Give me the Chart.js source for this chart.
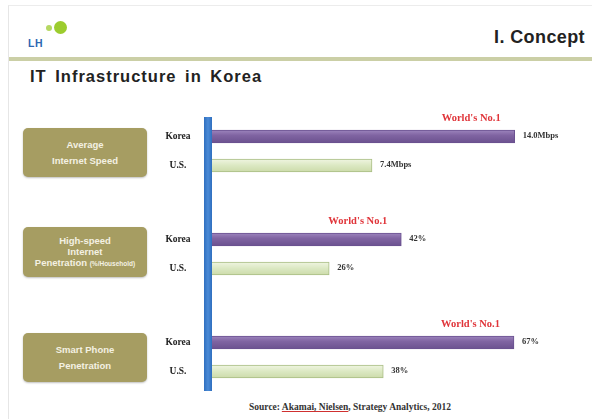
<!DOCTYPE html>
<html>
<head>
    <title>IT Infrastructure in Korea</title>
    <style>
        body {
            margin: 0;
            width: 592px;
            height: 419px;
            background: #fff;
            font-family: "Liberation Sans", Arial, sans-serif;
            position: relative;
            overflow: hidden;
        }
        .slide-edge {
            position: absolute;
            left: 8px; top: 5px; right: 0; bottom: 0;
            border-left: 1px solid #e6e6e6;
            border-top: 1px solid #ececec;
        }
        .logo-text {
            position: absolute;
            left: 28px; top: 37px;
            font: bold 10.5px "Liberation Sans", Arial, sans-serif;
            letter-spacing: 0.5px;
            color: #2d67b2;
        }
        .dot {
            position: absolute;
            border-radius: 50%;
        }
        .section {
            position: absolute;
            left: 494px; top: 27px;
            font: bold 18px "Liberation Sans", Arial, sans-serif;
            letter-spacing: 0.4px;
            color: #222;
            white-space: nowrap;
        }
        .rule {
            position: absolute;
            left: 9px; right: 0; top: 57px;
            height: 4px;
            background: #cbcfa6;
        }
        .title {
            position: absolute;
            left: 30px; top: 67px;
            font: bold 16.5px "Liberation Sans", Arial, sans-serif;
            letter-spacing: 1px;
            word-spacing: 3px;
            color: #222;
            white-space: nowrap;
        }
        .box {
            position: absolute;
            left: 23px; width: 124px;
            border-radius: 5px;
            background: #a69d62;
            box-shadow: 0 1px 2px rgba(0,0,0,0.25);
            color: #f4f1e2;
            font: bold 9.5px "Liberation Sans", Arial, sans-serif;
            line-height: 16px;
            text-align: center;
            display: flex;
            align-items: center;
            justify-content: center;
        }
        .box.tight {
            line-height: 11px;
        }
        .box small {
            font-size: 6.5px;
        }
        .axis-line {
            position: absolute;
            left: 204px; width: 8px;
            top: 117px; height: 274px;
            background: linear-gradient(to right, #2f6fbf, #4a8ad6, #2f6fbf);
        }
        canvas {
            position: absolute;
            left: 0;
        }
        .source {
            position: absolute;
            left: 0; width: 592px; top: 402px;
            text-align: center;
            padding-left: 108px;
            box-sizing: border-box;
            font: bold 9.5px "Liberation Serif", "Times New Roman", serif;
            color: #333;
        }
        .source u {
            text-decoration-color: #d03030;
        }
    </style>
</head>
<body>
    <div class="slide-edge"></div>
    <div class="dot" style="left:46px;top:25px;width:6px;height:6px;background:#b6d862;"></div>
    <div class="dot" style="left:54px;top:21px;width:13px;height:13px;background:#9ccc2e;"></div>
    <div class="logo-text">LH</div>
    <div class="section">I. Concept</div>
    <div class="rule"></div>
    <div class="title">IT Infrastructure in Korea</div>

    <div class="box" style="top:128px;height:49px;"><div>Average<br>Internet Speed</div></div>
    <div class="box tight" style="top:227px;height:50px;"><div>High-speed<br>Internet<br>Penetration <small>(%/Household)</small></div></div>
    <div class="box" style="top:333px;height:49px;"><div>Smart Phone<br>Penetration</div></div>

    <canvas id="speed" width="592" height="88" style="top:98px;"></canvas>
    <canvas id="broadband" width="592" height="88" style="top:201px;"></canvas>
    <canvas id="smartphone" width="592" height="88" style="top:304px;"></canvas>

    <div class="axis-line"></div>

    <div class="source">Source: <u>Akamai, Nielsen</u>, Strategy Analytics, 2012</div>

    <script src="https://cdn.jsdelivr.net/npm/chart.js"></script>
    <script>
        // data
        var countries = ['Korea', 'U.S.'];
        var speedMbps = [14.0, 7.4];
        var broadbandPct = [42, 26];
        var smartphonePct = [67, 38];
        var speedLabels = ['14.0Mbps', '7.4Mbps'];
        var broadbandLabels = ['42%', '26%'];
        var smartphoneLabels = ['67%', '38%'];
        var rankNote = "World's No.1";

        var speedMax = 14.8;
        var pctMax = 71;

        // draws the country names, value tags and the rank note
        var labelPlugin = {
            id: 'barLabels',
            afterDatasetsDraw: function(chart) {
                var ctx = chart.ctx;
                var meta = chart.getDatasetMeta(0);
                var yScale = chart.scales.y;
                var tags = chart.options.plugins.barLabels.tags;
                ctx.save();
                ctx.textBaseline = 'middle';
                countries.forEach(function(name, i) {
                    var y = yScale.getPixelForValue(i);
                    ctx.font = 'bold 9.5px "Liberation Serif", serif';
                    ctx.fillStyle = '#222';
                    ctx.textAlign = 'center';
                    ctx.fillText(name, 178, y);

                    var bar = meta.data[i];
                    ctx.font = 'bold 8.5px "Liberation Serif", serif';
                    ctx.textAlign = 'left';
                    ctx.fillStyle = '#333';
                    ctx.fillText(tags[i], bar.x + 8, bar.y - 1);
                });
                var top = meta.data[0];
                ctx.font = 'bold 10.5px "Liberation Serif", serif';
                ctx.fillStyle = '#e0353a';
                ctx.textAlign = 'right';
                ctx.fillText(rankNote, top.x - 14, top.y - 18);
                ctx.restore();
            }
        };

        // soft vertical shading on each bar
        function barFill(context) {
            var chart = context.chart;
            var yScale = chart.scales.y;
            var korea = context.dataIndex === 0;
            if (!yScale) return korea ? '#8064a2' : '#dbe8c2';
            var cy = yScale.getPixelForValue(context.dataIndex);
            if (!isFinite(cy)) return korea ? '#8064a2' : '#dbe8c2';
            var g = chart.ctx.createLinearGradient(0, cy - 6, 0, cy + 6);
            if (korea) {
                g.addColorStop(0, '#9a82bb');
                g.addColorStop(0.4, '#8064a2');
                g.addColorStop(1, '#6c5290');
            } else {
                g.addColorStop(0, '#eef4df');
                g.addColorStop(0.5, '#dbe8c2');
                g.addColorStop(1, '#cddcac');
            }
            return g;
        }

        function makeChart(id, values, tags, max) {
            var ctx = document.getElementById(id).getContext('2d');
            return new Chart(ctx, {
                type: 'bar',
                data: {
                    labels: countries,
                    datasets: [{
                        data: values,
                        backgroundColor: barFill,
                        borderColor: ['#6a5190', '#a9bd84'],
                        borderWidth: 1,
                        borderSkipped: 'left',
                        barThickness: 13
                    }]
                },
                options: {
                    indexAxis: 'y',
                    responsive: false,
                    animation: false,
                    layout: {
                        padding: { left: 212, right: 60, top: 24, bottom: 6 }
                    },
                    scales: {
                        x: { display: false, min: 0, max: max },
                        y: { display: false }
                    },
                    plugins: {
                        legend: { display: false },
                        tooltip: { enabled: false },
                        barLabels: { tags: tags }
                    }
                },
                plugins: [labelPlugin]
            });
        }

        makeChart('speed', speedMbps, speedLabels, speedMax);
        makeChart('broadband', broadbandPct, broadbandLabels, pctMax);
        makeChart('smartphone', smartphonePct, smartphoneLabels, pctMax);
    </script>
</body>
</html>
